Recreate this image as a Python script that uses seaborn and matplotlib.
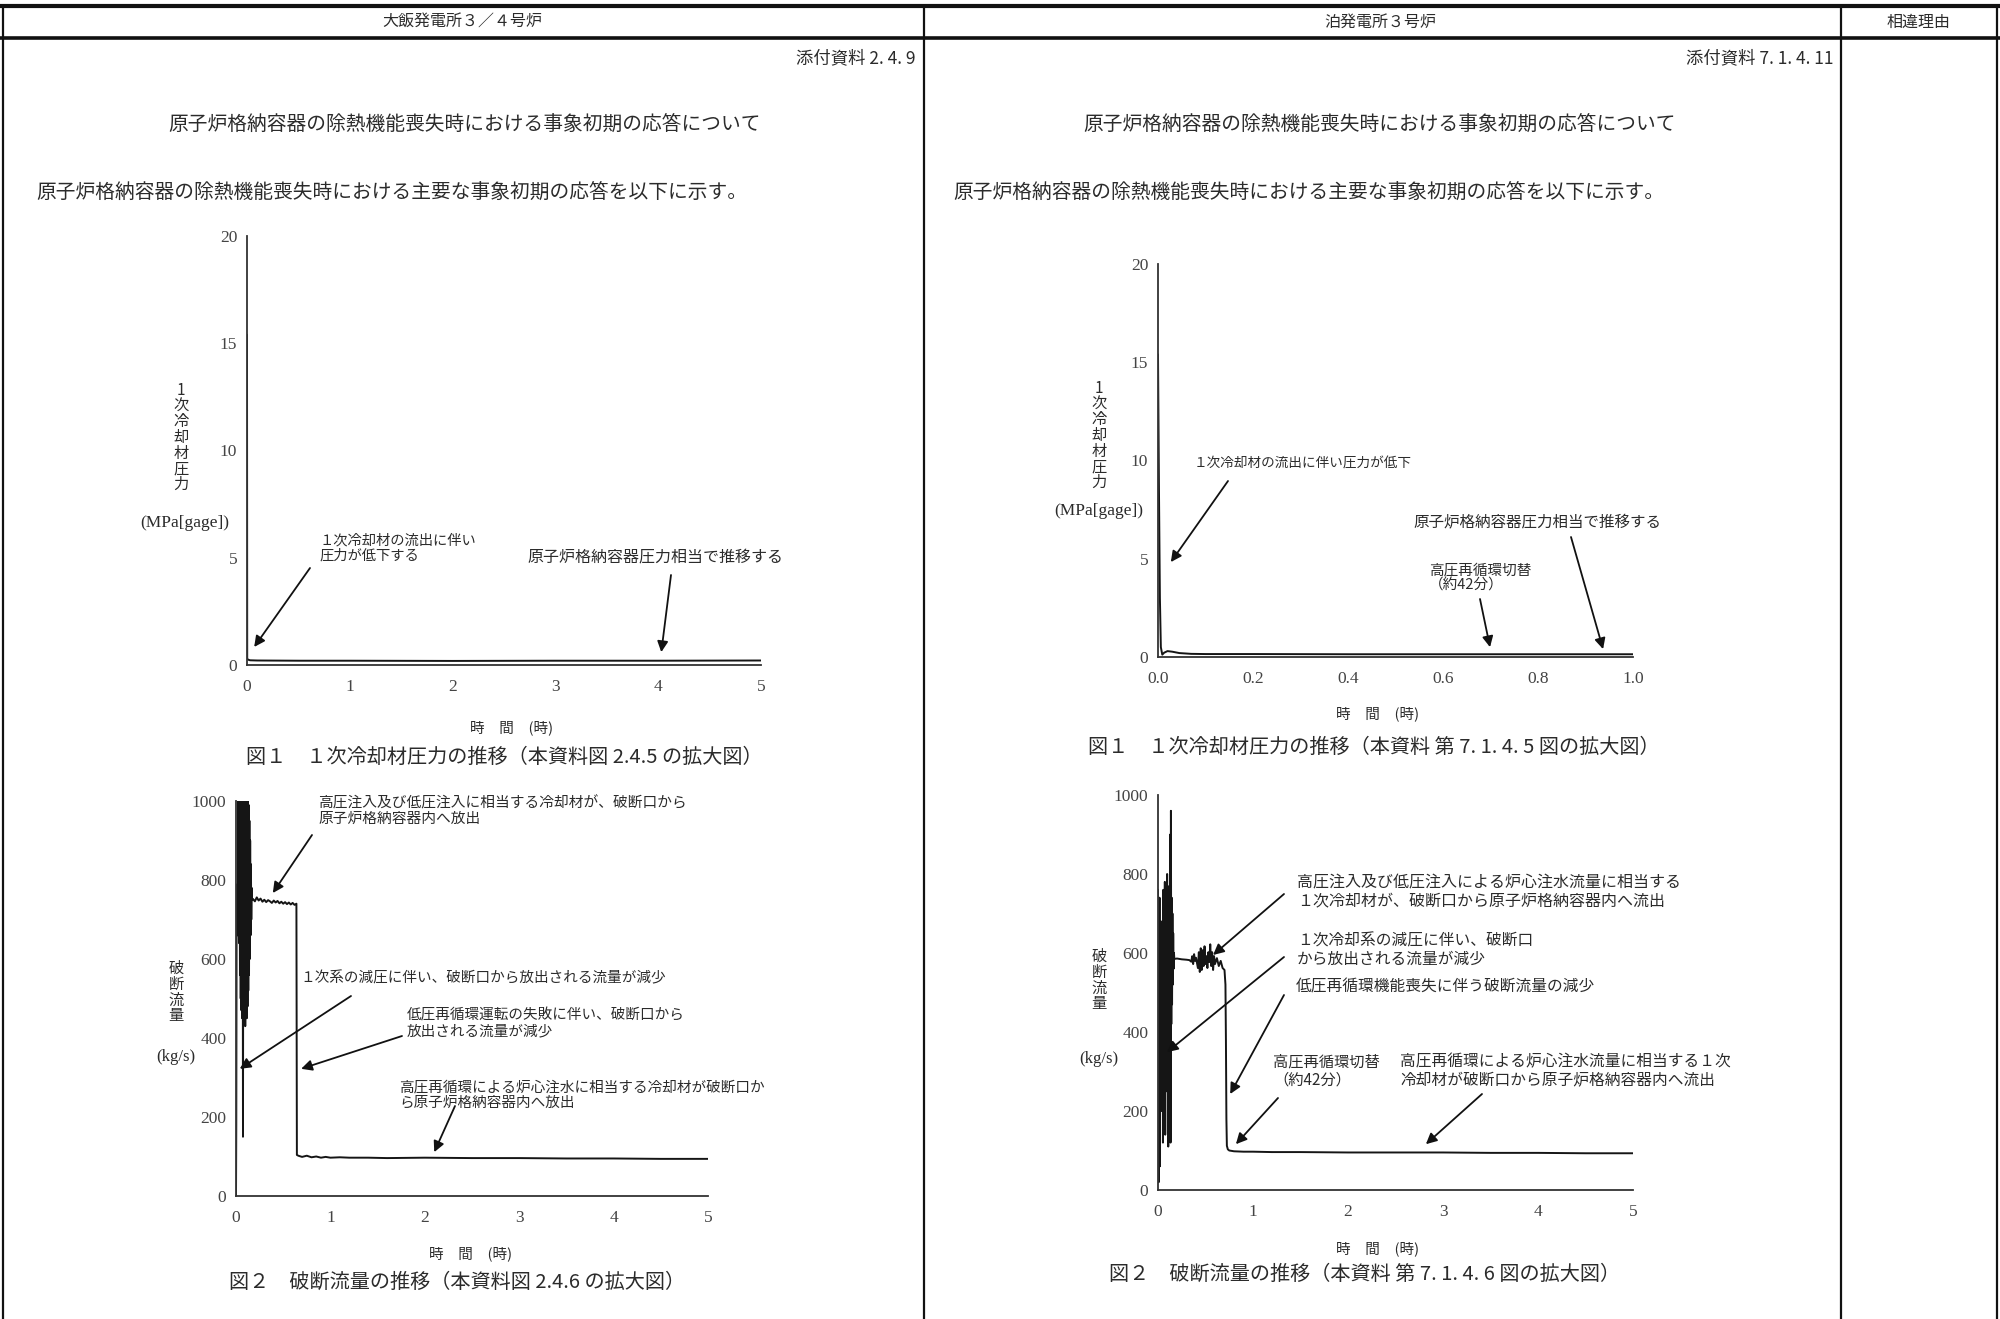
import matplotlib
matplotlib.use('Agg')
import matplotlib.pyplot as plt
import seaborn as sns

# ---------------- data ----------------
# 大飯発電所3/4号炉  図1 1次冷却材圧力 (MPa[gage]) vs 時間 (h)
ohi_p_time = [0.0, 0.002, 0.01, 0.03, 0.1, 0.5, 1.0, 2.0, 3.0, 4.0, 5.0]
ohi_p_val = [15.4, 0.3, 0.25, 0.22, 0.21, 0.2, 0.2, 0.19, 0.2, 0.2, 0.21]

# 大飯  図2 破断流量 (kg/s)
ohi_f_time = [0.000, 0.003, 0.006, 0.009, 0.012, 0.015, 0.018, 0.021, 0.024, 0.027,
              0.030, 0.034, 0.038, 0.042, 0.046, 0.050, 0.054, 0.058, 0.062, 0.066,
              0.070, 0.074, 0.078, 0.082, 0.086, 0.090, 0.094, 0.098, 0.102, 0.106,
              0.110, 0.114, 0.118, 0.122, 0.126, 0.130, 0.134, 0.138, 0.142, 0.146,
              0.150, 0.154, 0.158, 0.162, 0.166, 0.170,
              0.18, 0.20, 0.22, 0.24, 0.26, 0.28, 0.30, 0.32, 0.34, 0.36,
              0.38, 0.40, 0.42, 0.44, 0.46, 0.48, 0.50, 0.52, 0.54, 0.56,
              0.58, 0.60, 0.62, 0.64, 0.645, 0.66, 0.70, 0.75, 0.80, 0.85,
              0.90, 0.95, 1.0, 1.1, 1.2, 1.4, 1.6, 2.0, 2.5, 3.0,
              3.5, 4.0, 4.5, 5.0]
ohi_f_val = [0, 180, 620, 780, 700, 790, 660, 760, 1000, 700,
             1000, 640, 1000, 560, 1000, 500, 1000, 470, 1000, 450,
             1000, 150, 1000, 440, 1000, 460, 1000, 430, 1000, 470,
             1000, 450, 1000, 480, 1000, 520, 990, 560, 950, 600,
             900, 660, 840, 700, 780, 750,
             752, 746, 756, 748, 753, 745, 750, 744, 749, 746,
             742, 748, 743, 747, 741, 745, 740, 744, 739, 743,
             738, 742, 737, 740, 104, 102, 99, 102, 98, 100,
             97, 99, 97, 98, 97, 97, 96, 97, 96, 96,
             95, 95, 94, 94]

# 泊発電所3号炉  図1 1次冷却材圧力
tomari_p_time = [0.0, 0.002, 0.004, 0.006, 0.009, 0.013, 0.02, 0.03, 0.045, 0.07,
                 0.1, 0.2, 0.4, 0.6, 0.8, 1.0]
tomari_p_val = [15.4, 8.6, 3.0, 0.5, 0.12, 0.22, 0.3, 0.27, 0.2, 0.16,
                0.15, 0.15, 0.14, 0.14, 0.14, 0.14]

# 泊  図2 破断流量
tomari_f_time = [0.000, 0.004, 0.008, 0.012, 0.016, 0.020, 0.024, 0.028, 0.032, 0.036,
                 0.040, 0.044, 0.048, 0.052, 0.056, 0.060, 0.064, 0.068, 0.072, 0.076,
                 0.080, 0.084, 0.088, 0.092, 0.096, 0.100, 0.104, 0.108, 0.112, 0.116,
                 0.120, 0.124, 0.128, 0.132, 0.136, 0.140, 0.144, 0.148, 0.152, 0.156,
                 0.160, 0.164, 0.168, 0.172,
                 0.20, 0.25, 0.30, 0.33, 0.35, 0.36, 0.37, 0.38, 0.39, 0.40,
                 0.42, 0.43, 0.44, 0.45, 0.46, 0.47, 0.48, 0.49, 0.50, 0.51,
                 0.52, 0.53, 0.54, 0.55, 0.56, 0.57, 0.58, 0.59, 0.60, 0.62,
                 0.64, 0.66, 0.68, 0.70, 0.71, 0.715, 0.72, 0.725, 0.735, 0.75,
                 0.8, 0.9, 1.0, 1.2, 1.5, 2.0, 2.5, 3.0, 3.5, 4.0,
                 4.5, 5.0]
tomari_f_val = [760, 300, 20, 420, 740, 60, 560, 300, 680, 200,
                600, 380, 640, 120, 760, 180, 720, 300, 780, 140,
                700, 420, 740, 250, 800, 350, 720, 110, 690, 440,
                770, 330, 900, 120, 960, 420, 740, 470, 700, 520,
                650, 560, 600, 585,
                586, 584, 583, 582, 578, 592, 572, 597, 580, 588,
                562, 602, 552, 612, 557, 607, 567, 617, 572, 592,
                562, 602, 577, 622, 567, 602, 557, 592, 572, 587,
                567, 580, 562, 557, 520, 380, 180, 112, 103, 100,
                98, 97, 97, 96, 96, 95, 95, 95, 94, 94,
                93, 93]

time_ticks_5h = [0, 1, 2, 3, 4, 5]
time_ticks_1h = [0.0, 0.2, 0.4, 0.6, 0.8, 1.0]
pressure_ticks = [0, 5, 10, 15, 20]
flow_ticks = [0, 200, 400, 600, 800, 1000]

header_labels = ['大飯発電所３／４号炉', '泊発電所３号炉', '相違理由']
attach_labels = ['添付資料 2. 4. 9', '添付資料 7. 1. 4. 11']
title_text = '原子炉格納容器の除熱機能喪失時における事象初期の応答について'
intro_text = '原子炉格納容器の除熱機能喪失時における主要な事象初期の応答を以下に示す。'
captions = ['図１　１次冷却材圧力の推移（本資料図 2.4.5 の拡大図）',
            '図２　破断流量の推移（本資料図 2.4.6 の拡大図）',
            '図１　１次冷却材圧力の推移（本資料 第 7. 1. 4. 5 図の拡大図）',
            '図２　破断流量の推移（本資料 第 7. 1. 4. 6 図の拡大図）']

# ---------------- style ----------------
sns.set_theme(style='white')
plt.rcParams['font.family'] = ['Noto Sans CJK JP', 'DejaVu Sans']
INK = '#2b2b2b'
W, H = 2000, 1319

fig = plt.figure(figsize=(20, 13.19), dpi=100)
fig.patch.set_facecolor('white')

# page layer in pixel coordinates (y down)
bg = fig.add_axes([0, 0, 1, 1], zorder=0)
bg.set_xlim(0, W)
bg.set_ylim(H, 0)
bg.axis('off')

# table frame
for x in [3, 924, 1841, 1997]:
    bg.plot([x, x], [6, H], color='#111', lw=1.6)
bg.plot([0, W], [6, 6], color='#111', lw=3.0)
bg.plot([0, W], [38, 38], color='#111', lw=2.6)

for txt, cx in zip(header_labels, [462, 1380, 1919]):
    bg.text(cx, 22, txt, ha='center', va='center', fontsize=11.5, color=INK)
bg.text(916, 58, attach_labels[0], ha='right', va='center', fontsize=12.5, color=INK)
bg.text(1833, 58, attach_labels[1], ha='right', va='center', fontsize=12.5, color=INK)
for cx in [465, 1380]:
    bg.text(cx, 125, title_text, ha='center', va='center', fontsize=14.2, color=INK)
bg.text(36, 193, intro_text, ha='left', va='center', fontsize=14.2, color=INK)
bg.text(953, 193, intro_text, ha='left', va='center', fontsize=14.2, color=INK)


def to_frac(x0, y0, x1, y1):
    return [x0 / W, (H - y1) / H, (x1 - x0) / W, (y1 - y0) / H]


def make_chart(rect, t, v, xt, xlabels, yt, ylim, xlim):
    ax = fig.add_axes(to_frac(*rect), zorder=2)
    ax.patch.set_alpha(0)
    sns.lineplot(x=t, y=v, ax=ax, color='#151515', lw=1.4, estimator=None, sort=False)
    ax.set_xlim(*xlim)
    ax.set_ylim(*ylim)
    ax.set_xticks(xt)
    ax.set_xticklabels(xlabels, fontfamily='Liberation Serif', fontsize=12.5, color='#444')
    ax.set_yticks(yt)
    ax.set_yticklabels([str(y) for y in yt], fontfamily='Liberation Serif', fontsize=12.5,
                       color='#444')
    ax.tick_params(direction='in', length=6, width=1.1, color='#333')
    ax.tick_params(axis='x', pad=10)
    ax.tick_params(axis='y', pad=7)
    sns.despine(ax=ax)
    for s in ['left', 'bottom']:
        ax.spines[s].set_color('#333')
        ax.spines[s].set_linewidth(1.3)
    ax.set_xlabel('')
    ax.set_ylabel('')
    return ax


def annotate(ax, items):
    for text, (tx, ty), size, tail, tip in items:
        bg.text(tx, ty, text, ha='left', va='center', fontsize=size, color=INK,
                linespacing=1.15, zorder=3)
        ax.annotate('', xy=tip, xycoords='data', xytext=tail, textcoords=bg.transData,
                    annotation_clip=False,
                    arrowprops=dict(arrowstyle='-|>', color='#111', lw=1.3,
                                    mutation_scale=16, shrinkA=0, shrinkB=0))


# ---- 大飯 図1 ----
ax1 = make_chart((247, 236, 761, 665), ohi_p_time, ohi_p_val, time_ticks_5h,
                 [str(x) for x in time_ticks_5h], pressure_ticks, (0, 20), (0, 5))
annotate(ax1, [
    ('１次冷却材の流出に伴い\n圧力が低下する', (319, 548), 10.3, (310, 568), (0.07, 0.84)),
    ('原子炉格納容器圧力相当で推移する', (527, 557), 11.5, (671, 575), (4.03, 0.6)),
])
bg.text(181, 382, '1\n次\n冷\n却\n材\n圧\n力', ha='center', va='top', fontsize=11,
        color=INK, linespacing=0.9)
bg.text(185, 523, '(MPa[gage])', ha='center', va='center', fontsize=12.5,
        fontfamily='Liberation Serif', color=INK)
bg.text(512, 728, '時　間　(時)', ha='center', va='center', fontsize=10.5, color=INK)
bg.text(504, 757, captions[0], ha='center', va='center', fontsize=14.5, color=INK)

# ---- 大飯 図2 ----
ax2 = make_chart((236, 801, 708, 1196), ohi_f_time, ohi_f_val, time_ticks_5h,
                 [str(x) for x in time_ticks_5h], flow_ticks, (0, 1000), (0, 5))
annotate(ax2, [
    ('高圧注入及び低圧注入に相当する冷却材が、破断口から\n原子炉格納容器内へ放出',
     (318, 811), 10.6, (312, 835), (0.39, 767)),
    ('１次系の減圧に伴い、破断口から放出される流量が減少',
     (300, 978), 10.5, (351, 996), (0.04, 322)),
    ('低圧再循環運転の失敗に伴い、破断口から\n放出される流量が減少',
     (407, 1023), 10.5, (402, 1036), (0.69, 322)),
    ('高圧再循環による炉心注水に相当する冷却材が破断口か\nら原子炉格納容器内へ放出',
     (399, 1095), 10.5, (455, 1106), (2.1, 111)),
])
bg.text(176, 960, '破\n断\n流\n量', ha='center', va='top', fontsize=11,
        color=INK, linespacing=0.9)
bg.text(176, 1057, '(kg/s)', ha='center', va='center', fontsize=12,
        fontfamily='Liberation Serif', color=INK)
bg.text(471, 1254, '時　間　(時)', ha='center', va='center', fontsize=10.5, color=INK)
bg.text(457, 1282, captions[1], ha='center', va='center', fontsize=14.5, color=INK)

# ---- 泊 図1 ----
ax3 = make_chart((1158, 264, 1633, 657), tomari_p_time, tomari_p_val, time_ticks_1h,
                 ['%.1f' % x for x in time_ticks_1h], pressure_ticks, (0, 20), (0, 1))
annotate(ax3, [
    ('１次冷却材の流出に伴い圧力が低下', (1194, 464), 9.8, (1228, 481), (0.027, 4.83)),
    ('原子炉格納容器圧力相当で推移する', (1413, 522), 11.2, (1571, 537), (0.937, 0.4)),
    ('高圧再循環切替\n（約42分）', (1429, 578), 10.5, (1480, 599), (0.699, 0.5)),
])
bg.text(1099, 380, '1\n次\n冷\n却\n材\n圧\n力', ha='center', va='top', fontsize=11,
        color=INK, linespacing=0.9)
bg.text(1099, 511, '(MPa[gage])', ha='center', va='center', fontsize=12.5,
        fontfamily='Liberation Serif', color=INK)
bg.text(1378, 714, '時　間　(時)', ha='center', va='center', fontsize=10.5, color=INK)
bg.text(1374, 747, captions[2], ha='center', va='center', fontsize=14.5, color=INK)

# ---- 泊 図2 ----
ax4 = make_chart((1158, 795, 1633, 1190), tomari_f_time, tomari_f_val, time_ticks_5h,
                 [str(x) for x in time_ticks_5h], flow_ticks, (0, 1000), (0, 5))
annotate(ax4, [
    ('高圧注入及び低圧注入による炉心注水流量に相当する\n１次冷却材が、破断口から原子炉格納容器内へ流出',
     (1297, 892), 11.5, (1284, 894), (0.58, 595)),
    ('１次冷却系の減圧に伴い、破断口\nから放出される流量が減少',
     (1297, 950), 11.3, (1284, 957), (0.095, 349)),
    ('低圧再循環機能喪失に伴う破断流量の減少',
     (1296, 987), 11.3, (1284, 995), (0.76, 243)),
    ('高圧再循環切替\n（約42分）', (1273, 1071), 11, (1278, 1098), (0.82, 116)),
    ('高圧再循環による炉心注水流量に相当する１次\n冷却材が破断口から原子炉格納容器内へ流出',
     (1400, 1071), 11.3, (1482, 1094), (2.82, 116)),
])
bg.text(1099, 948, '破\n断\n流\n量', ha='center', va='top', fontsize=11,
        color=INK, linespacing=0.9)
bg.text(1099, 1059, '(kg/s)', ha='center', va='center', fontsize=12,
        fontfamily='Liberation Serif', color=INK)
bg.text(1378, 1249, '時　間　(時)', ha='center', va='center', fontsize=10.5, color=INK)
bg.text(1365, 1274, captions[3], ha='center', va='center', fontsize=14.5, color=INK)

fig.savefig('out.png', dpi=100, facecolor='white')
